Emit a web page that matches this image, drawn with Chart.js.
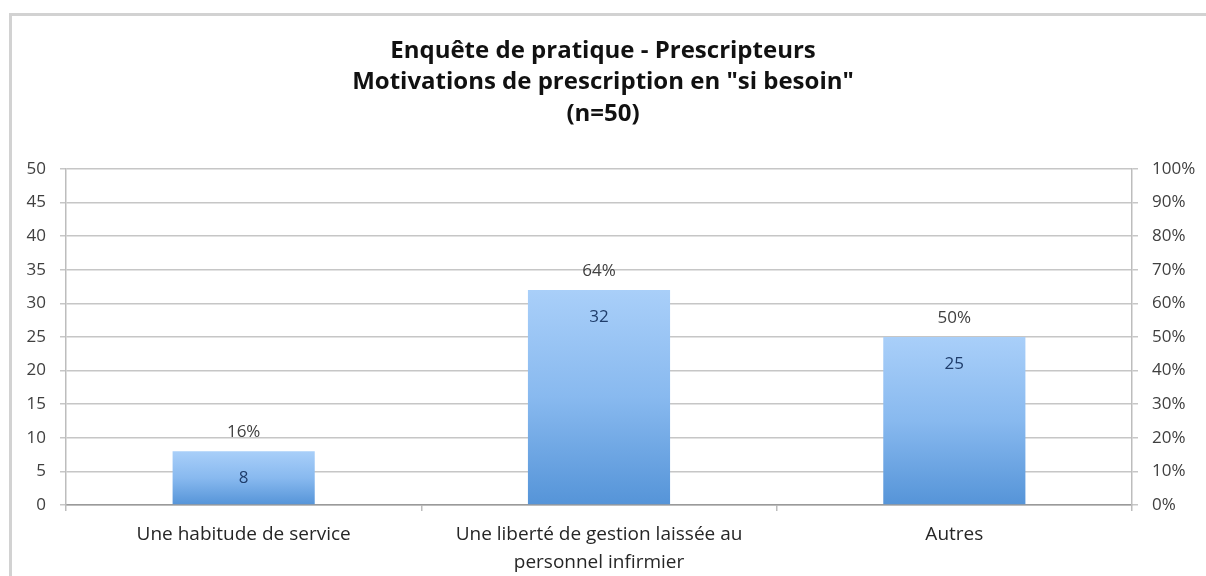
<!DOCTYPE html>
<html><head><meta charset="utf-8">
<script src="https://cdn.jsdelivr.net/npm/chart.js@4"></script>
<style>
html,body{margin:0;padding:0;background:#fff;}
#wrap{position:absolute;left:0;top:0;width:1206px;height:576px;}
#frame{position:absolute;left:9px;top:13px;width:1200px;height:570px;border-left:3px solid #d2d2d2;border-top:3px solid #d2d2d2;pointer-events:none;}
canvas{position:absolute;left:0;top:0;}
</style></head>
<body>
<div id="wrap"><canvas id="c" width="1206" height="576"></canvas><div id="frame"></div></div>
<script>
const titleLines = ["Enquête de pratique - Prescripteurs", "Motivations de prescription en \"si besoin\"", "(n=50)"];
const categories = [["Une habitude de service"], ["Une liberté de gestion laissée au", "personnel infirmier"], ["Autres"]];
const counts = [8, 32, 25];
const percentLabels = ["16%", "64%", "50%"];
const leftTicks = [0, 5, 10, 15, 20, 25, 30, 35, 40, 45, 50];
const rightTicks = [0, 10, 20, 30, 40, 50, 60, 70, 80, 90, 100];

const FONT = "'Open Sans', 'Noto Sans', sans-serif";

function barGradient(ctx) {
  const chart = ctx.chart;
  const y = chart.scales && chart.scales.y;
  if (!y || ctx.type !== 'data') return '#7fb0ea';
  const top = y.getPixelForValue(ctx.raw);
  const bottom = y.getPixelForValue(0);
  if (!isFinite(top) || !isFinite(bottom) || top === bottom) return '#7fb0ea';
  const g = chart.ctx.createLinearGradient(0, top, 0, bottom);
  g.addColorStop(0, '#a9cff9');
  g.addColorStop(0.5, '#88b9ef');
  g.addColorStop(1, '#5594d8');
  return g;
}

const labelPlugin = {
  id: 'barLabels',
  afterDatasetsDraw(chart) {
    const meta = chart.getDatasetMeta(0);
    const c = chart.ctx;
    c.save();
    c.textAlign = 'center';
    c.textBaseline = 'middle';
    meta.data.forEach((bar, i) => {
      c.font = "17px " + FONT;
      c.fillStyle = '#1f3d6b';
      c.fillText(String(counts[i]), bar.x, bar.y + 27);
      c.fillStyle = '#404040';
      c.fillText(percentLabels[i], bar.x, bar.y - 19);
    });
    c.restore();
  }
};

new Chart(document.getElementById('c'), {
  type: 'bar',
  data: {
    labels: categories,
    datasets: [{
      data: counts,
      backgroundColor: barGradient,
      borderWidth: 0,
      categoryPercentage: 1.0,
      barPercentage: 0.4,
      yAxisID: 'y'
    }]
  },
  options: {
    responsive: false,
    animation: false,
    devicePixelRatio: 1,
    layout: { padding: { left: 0, right: 0, top: 0, bottom: 0 } },
    plugins: {
      legend: { display: false },
      tooltip: { enabled: false },
      title: {
        display: true,
        text: titleLines,
        color: '#111',
        font: { family: FONT, size: 24, weight: 'bold', lineHeight: 1.32 },
        padding: { top: 35, bottom: 39 }
      }
    },
    scales: {
      x: {
        grid: { display: true, drawOnChartArea: false, offset: true, tickLength: 6, color: '#bdbdbd', lineWidth: 1.5 },
        border: { display: true, color: '#9a9a9a', width: 1.5 },
        ticks: { color: '#262626', font: { family: FONT, size: 19, lineHeight: 1.5 }, padding: 9, maxRotation: 0, autoSkip: false },
        afterFit(s) { s.height = 71; }
      },
      y: {
        position: 'left',
        min: 0, max: 50,
        afterBuildTicks(s) { s.ticks = leftTicks.map(v => ({ value: v })); },
        grid: { color: '#c6c6c6', lineWidth: 1.5, tickLength: 6 },
        border: { display: true, color: '#bdbdbd', width: 1.5 },
        ticks: { color: '#404040', font: { family: FONT, size: 17 }, padding: 14 },
        afterFit(s) { s.width = 66; }
      },
      y2: {
        position: 'right',
        min: 0, max: 100,
        afterBuildTicks(s) { s.ticks = rightTicks.map(v => ({ value: v })); },
        grid: { drawOnChartArea: false, color: '#c6c6c6', lineWidth: 1.5, tickLength: 6 },
        border: { display: true, color: '#bdbdbd', width: 1.5 },
        ticks: { color: '#404040', font: { family: FONT, size: 17 }, padding: 14, callback: v => v + '%' },
        afterFit(s) { s.width = 74; }
      }
    }
  },
  plugins: [labelPlugin]
});
</script>
</body></html>
